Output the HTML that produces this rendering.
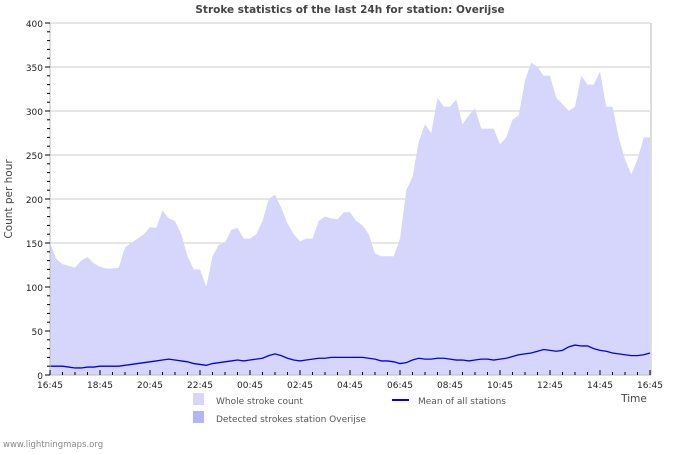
<!DOCTYPE html>
<html><head><meta charset="utf-8"><style>
body{margin:0;background:#fff;width:700px;height:450px;overflow:hidden;font-family:"DejaVu Sans","Liberation Sans",sans-serif}
</style></head><body>
<svg id="chart" width="700" height="450" font-family="DejaVu Sans, Liberation Sans, sans-serif">
<text x="350" y="13" text-anchor="middle" font-size="10.5" font-weight="bold" fill="#444">Stroke statistics of the last 24h for station: Overijse</text>
<text transform="translate(12,199) rotate(-90)" text-anchor="middle" font-size="10.5" fill="#444">Count per hour</text>
<text x="634" y="402" text-anchor="middle" font-size="10.5" fill="#444">Time</text>
<g id="grid"></g><g id="series"></g><g id="axes"></g>
<rect x="193" y="393" width="11" height="12" fill="#d6d6fc"/>
<text x="216" y="404" font-size="9" fill="#555">Whole stroke count</text>
<rect x="193" y="411" width="11" height="12" fill="#b4b4f8"/>
<text x="216" y="422" font-size="9" fill="#555">Detected strokes station Overijse</text>
<line x1="392" y1="400" x2="409" y2="400" stroke="#0000ee" stroke-width="2"/>
<text x="418" y="404" font-size="9" fill="#555">Mean of all stations</text>
<text x="3" y="447" font-size="8.5" fill="#888">www.lightningmaps.org</text>
</svg>
<script>
const xLabels=["16:45","18:45","20:45","22:45","00:45","02:45","04:45","06:45","08:45","10:45","12:45","14:45","16:45"];
const yTicks=[0,50,100,150,200,250,300,350,400];
// values every 15 min from 16:45 to 16:45
const whole=[150,132,126,124,122,130,134,127,123,121,121,122,145,150,155,160,168,167,187,178,175,160,135,120,120,100,135,148,150,165,167,155,155,160,175,200,205,190,172,160,152,155,155,175,180,178,177,185,185,175,170,160,138,135,135,135,155,210,225,265,285,275,315,305,305,313,285,295,303,280,280,280,262,270,290,295,335,355,350,340,340,315,308,300,305,340,330,330,345,305,305,270,245,228,245,270,270];
const mean=[10,10,10,9,8,8,9,9,10,10,10,10,11,12,13,14,15,16,17,18,17,16,15,13,12,11,13,14,15,16,17,16,17,18,19,22,24,22,19,17,16,17,18,19,19,20,20,20,20,20,20,19,18,16,16,15,13,14,17,19,18,18,19,19,18,17,17,16,17,18,18,17,18,19,21,23,24,25,27,29,28,27,28,32,34,33,33,30,28,27,25,24,23,22,22,23,25];
const detected=whole.map(()=>0);
const X0=50,X1=650,Y0=375,Y1=23,YMAX=400;
const xs=i=>X0+(X1-X0)*i/(whole.length-1);
const ys=v=>Y0-(Y0-Y1)*v/YMAX;
const NS="http://www.w3.org/2000/svg";
function mk(tag,attrs,parent){const e=document.createElementNS(NS,tag);for(const k in attrs)e.setAttribute(k,attrs[k]);document.getElementById(parent).appendChild(e);return e;}
yTicks.forEach(v=>{
 const g=mk('line',{x1:X0,x2:X1,y1:ys(v),y2:ys(v),stroke:'#ccc','stroke-width':1},'grid');
 
 
 const t=mk('text',{x:X0-7,y:ys(v)+4,'text-anchor':'end','font-size':9,fill:'#222'},'axes');
 t.textContent=v;
 
 
});
let d=`M${X0},${Y0}`;whole.forEach((v,i)=>d+=`L${xs(i)},${ys(v)}`);d+=`L${X1},${Y0}Z`;
const a=mk('path',{d:d,fill:'#d6d6fc'},'series');


let d2=`M${X0},${Y0}`;detected.forEach((v,i)=>d2+=`L${xs(i)},${ys(v)}`);d2+=`L${X1},${Y0}Z`;
const a2=mk('path',{d:d2,fill:'#b4b4f8'},'series');


const l=mk('polyline',{points:mean.map((v,i)=>xs(i)+','+ys(v)).join(' '),fill:'none',stroke:'#0000ee','stroke-width':1.3},'series');


const ax=mk('path',{d:`M${X0},${Y1}V${Y0}H${X1+1}V${Y1}`,fill:'none',stroke:'#bbb'},'axes');


for(let v=0;v<=YMAX;v+=10){const t=mk('line',{x1:X0-(v%50?3:5),x2:X0,y1:ys(v),y2:ys(v),stroke:'#000'},'axes');

}
for(let h=0;h<=48;h++){const x=X0+(X1-X0)*h/48;const t=mk('line',{x1:x,x2:x,y1:Y0,y2:Y0-(h%4?3:5),stroke:'#000'},'axes');

}
xLabels.forEach((s,i)=>{const t=mk('text',{x:X0+(X1-X0)*i/(xLabels.length-1),y:Y0+13,'text-anchor':'middle','font-size':9,fill:'#222'},'axes');
t.textContent=s;

});
</script>
</body></html>
